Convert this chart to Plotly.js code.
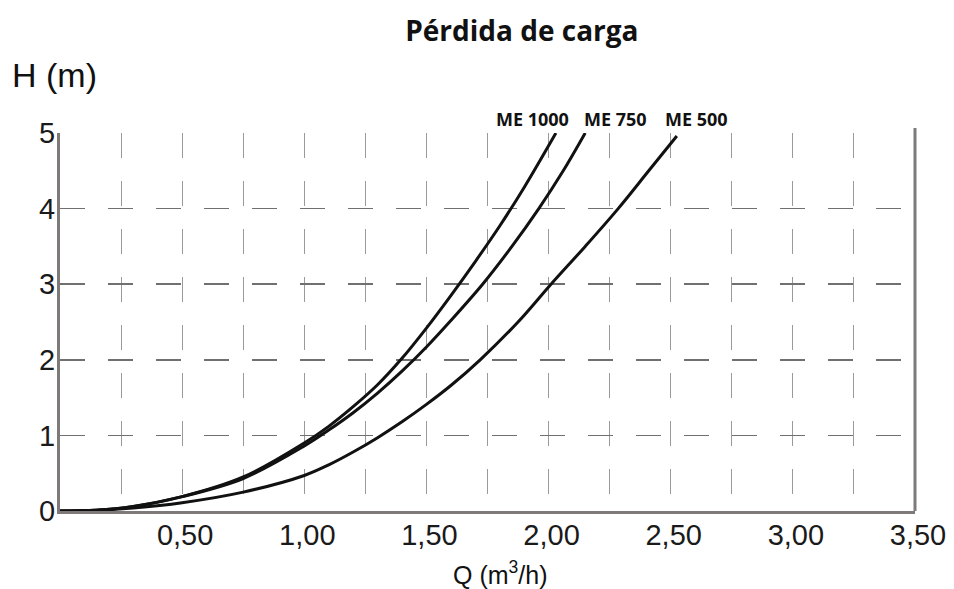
<!DOCTYPE html>
<html>
<head>
<meta charset="utf-8">
<script src="https://cdn.plot.ly/plotly-3.0.1.min.js"></script>
<style>html,body{margin:0;padding:0;background:#fff;}#chart{width:954px;height:589px;}</style>
</head>
<body>
<div id="chart"></div>
<script>
// ---- data ----
const seriesNames = ["ME 1000", "ME 750", "ME 500"];

const qME1000 = [0, 0.15, 0.3, 0.5, 0.75, 1.0, 1.1, 1.2, 1.3, 1.4, 1.5, 1.6, 1.7, 1.8, 1.9, 2.03];
const hME1000 = [0, 0.01, 0.06, 0.19, 0.45, 0.9, 1.12, 1.38, 1.67, 2.02, 2.42, 2.85, 3.3, 3.77, 4.28, 5.0];

const qME750 = [0, 0.15, 0.3, 0.5, 0.75, 1.0, 1.1, 1.2, 1.3, 1.4, 1.5, 1.6, 1.73, 1.85, 1.96, 2.06, 2.15];
const hME750 = [0, 0.01, 0.06, 0.19, 0.43, 0.86, 1.07, 1.3, 1.56, 1.85, 2.17, 2.52, 3.0, 3.5, 4.0, 4.5, 5.0];

const qME500 = [0, 0.15, 0.3, 0.5, 0.75, 1.0, 1.1, 1.2, 1.3, 1.4, 1.5, 1.6, 1.72, 1.875, 2.01, 2.15, 2.285, 2.41, 2.525];
const hME500 = [0, 0.01, 0.04, 0.11, 0.25, 0.47, 0.61, 0.78, 0.97, 1.18, 1.41, 1.66, 2.0, 2.5, 3.0, 3.5, 4.0, 4.5, 4.96];

const xTickVals = [0.5, 1.0, 1.5, 2.0, 2.5, 3.0, 3.5];
const xTickText = ["0,50", "1,00", "1,50", "2,00", "2,50", "3,00", "3,50"];
const yTickVals = [0, 1, 2, 3, 4, 5];
const yTickText = ["0", "1", "2", "3", "4", "5"];

const chartTitle = "Pérdida de carga";
const yTitle = "H (m)";
const xTitle = "Q (m<sup>3</sup>/h)";

// ---- traces ----
const qs = [qME1000, qME750, qME500];
const hs = [hME1000, hME750, hME500];
const traces = qs.map((q, i) => ({
  x: q, y: hs[i], name: seriesNames[i], type: "scatter", mode: "lines",
  line: {color: "#111111", width: 3, shape: "spline", smoothing: 1},
  hoverinfo: "skip"
}));

const labelX = [1.936, 2.276, 2.607];
const annotations = seriesNames.map((n, i) => ({
  text: "<b>" + n + "</b>", x: labelX[i], xref: "x", y: 1, yref: "paper",
  yshift: 14, xanchor: "center", yanchor: "middle", showarrow: false,
  font: {family: "Open Sans", size: 18, color: "#111"}
}));
annotations.push({
  text: yTitle, x: -0.0585, xref: "paper", y: 1.153, yref: "paper",
  xanchor: "left", yanchor: "middle", showarrow: false,
  font: {family: "Liberation Sans", size: 34, color: "#111"}
});
annotations.push({
  text: xTitle, x: 0.515, xref: "paper", y: -0.165, yref: "paper",
  xanchor: "center", yanchor: "middle", showarrow: false,
  font: {family: "Liberation Sans", size: 25, color: "#111"}
});

const layout = {
  width: 954, height: 589,
  margin: {l: 60, r: 39, t: 133, b: 78, pad: 0},
  paper_bgcolor: "#ffffff", plot_bgcolor: "#ffffff",
  showlegend: false,
  title: {text: "<b>" + chartTitle + "</b>", x: 0.547, xref: "container", xanchor: "center",
          y: 0.947, yref: "container", yanchor: "middle",
          font: {family: "Open Sans", size: 28, color: "#111"}},
  xaxis: {
    range: [0, 3.5], tickvals: xTickVals, ticktext: xTickText,
    showgrid: true, gridcolor: "#9a9a9a", gridwidth: 1, griddash: "25px,23px",
    minor: {dtick: 0.25, tick0: 0, showgrid: true, gridcolor: "#9a9a9a", gridwidth: 1, griddash: "25px,23px", ticks: ""},
    zeroline: false, showline: true, linecolor: "#7f7a7a", linewidth: 3,
    ticks: "", ticklabelstandoff: -4, ticklabelshift: 3,
    tickfont: {family: "Liberation Sans", size: 29, color: "#1a1a1a"},
    fixedrange: true
  },
  yaxis: {
    range: [0, 5], tickvals: yTickVals, ticktext: yTickText,
    showgrid: true, gridcolor: "#707070", gridwidth: 1.5, griddash: "25px,23px",
    zeroline: false, showline: true, linecolor: "#7f7a7a", linewidth: 3,
    ticks: "", ticklabelstandoff: -4,
    tickfont: {family: "Liberation Sans", size: 29, color: "#1a1a1a"},
    fixedrange: true
  },
  shapes: [{type: "line", xref: "paper", yref: "paper", x0: 1, x1: 1, y0: 0, y1: 1.013,
            line: {color: "#7f7a7a", width: 3}}],
  annotations: annotations
};

Plotly.newPlot("chart", traces, layout, {staticPlot: true, displayModeBar: false});
</script>
</body>
</html>
